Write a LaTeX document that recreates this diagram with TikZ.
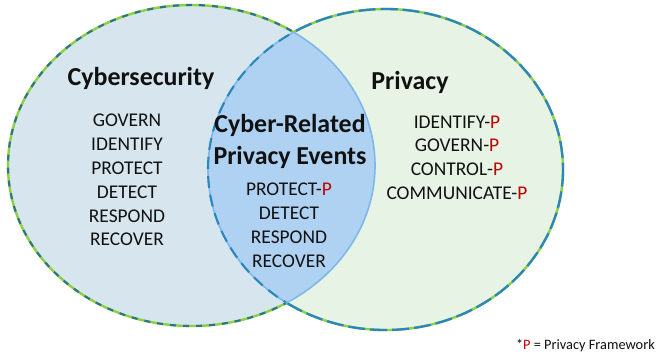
\documentclass[tikz,border=0pt]{standalone}
\usepackage{fontspec}
\setmainfont{Carlito}
\definecolor{lfill}{HTML}{D6E5EE}
\definecolor{rfill}{HTML}{E7F3E5}
\definecolor{lensfill}{HTML}{B0D2F2}
\definecolor{vgreen}{HTML}{8DCF45}
\definecolor{vteal}{HTML}{2C7488}
\definecolor{vblue}{HTML}{2A86BC}
\definecolor{lensline}{HTML}{7DB8EA}
\definecolor{ink}{HTML}{111111}
\definecolor{pred}{HTML}{C00000}
\tikzset{
  greenline/.style={draw=vgreen, line width=2.4bp},
  tealdash/.style={draw=vteal, line width=2.1bp, dash pattern=on 6bp off 7bp},
  bluedash/.style={draw=vblue, line width=2.3bp, dash pattern=on 17bp off 5bp},
  lensdash/.style={draw=vblue, line width=2.1bp, dash pattern=on 12bp off 7bp},
  lensedge/.style={draw=lensline, line width=1.6bp},
  item/.style={anchor=base, font=\fontsize{19.5}{24}\selectfont, text=ink, inner sep=0pt},
  ttl/.style={anchor=base, font=\bfseries\fontsize{26}{30}\selectfont, text=ink, inner sep=0pt},
  note/.style={anchor=base east, font=\fontsize{14.4}{17}\selectfont, text=ink, inner sep=0pt},
  lshape/.style={x radius=183.5, y radius=160.5},
  rshape/.style={x radius=177.5, y radius=160.5}
}
\begin{document}
\begin{tikzpicture}[x=1bp,y=-1bp]
\useasboundingbox (0,0) rectangle (657,356);
\fill[white] (0,0) rectangle (657,356);
\coordinate (L) at (191.5,165.5);
\coordinate (R) at (385.5,169.5);
% fills
\fill[lfill] (L) ellipse [lshape];
\fill[rfill] (R) ellipse [rshape];
\begin{scope}
  \clip (L) ellipse [lshape];
  \fill[lensfill] (R) ellipse [rshape];
\end{scope}
% outer borders
\begin{scope}[even odd rule]
  \clip (-10,-10) rectangle (667,366) (R) ellipse [rshape];
  \draw[greenline] (L) ellipse [lshape];
  \draw[tealdash] (L) ellipse [lshape];
\end{scope}
\begin{scope}[even odd rule]
  \clip (-10,-10) rectangle (667,366) (L) ellipse [lshape];
  \draw[greenline] (R) ellipse [rshape];
  \draw[bluedash] (R) ellipse [rshape];
\end{scope}
% lens edges
\begin{scope}
  \clip (L) ellipse [lshape];
  \draw[lensedge] (R) ellipse [rshape];
  \draw[lensdash] (R) ellipse [rshape];
\end{scope}
\begin{scope}
  \clip (R) ellipse [rshape];
  \draw[lensedge] (L) ellipse [lshape];
\end{scope}
% titles
\node[ttl] (tcyber) at (141,85) {Cybersecurity};
\node[ttl] (tpriv) at (410,89.5) {Privacy};
\node[ttl] (tlens1) at (290,132) {Cyber-Related};
\node[ttl] (tlens2) at (290,164) {Privacy Events};
% left list
\node[item] (l1) at (127,126) {GOVERN};
\node[item] (l2) at (127,150) {IDENTIFY};
\node[item] (l3) at (127,174) {PROTECT};
\node[item] (l4) at (127,198) {DETECT};
\node[item] (l5) at (127,222) {RESPOND};
\node[item] (l6) at (127,245) {RECOVER};
% right list
\node[item] (r1) at (457,128) {IDENTIFY-\textcolor{pred}{P}};
\node[item] (r2) at (457,151) {GOVERN-\textcolor{pred}{P}};
\node[item] (r3) at (457,175) {CONTROL-\textcolor{pred}{P}};
\node[item] (r4) at (457,199) {COMMUNICATE-\textcolor{pred}{P}};
% lens list
\node[item] (m1) at (289,195.5) {PROTECT-\textcolor{pred}{P}};
\node[item] (m2) at (289,219) {DETECT};
\node[item] (m3) at (289,243) {RESPOND};
\node[item] (m4) at (289,267) {RECOVER};
% footnote
\node[note] (fn) at (655,349) {*\textcolor{pred}{P} = Privacy Framework};
\end{tikzpicture}
\end{document}
